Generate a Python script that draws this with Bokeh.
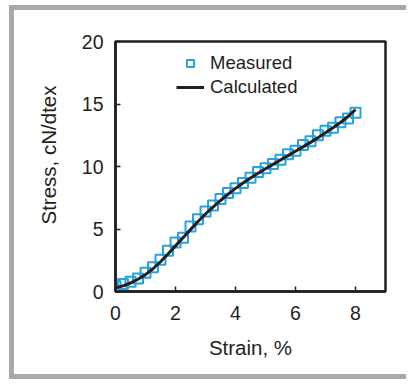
from bokeh.plotting import figure
from bokeh.models import Legend, LegendItem, FixedTicker, Range1d, Title
from bokeh.embed import file_html
from bokeh.resources import INLINE

# ---- data ----
strain_measured = [0.0, 0.25, 0.5, 0.75, 1.0, 1.25, 1.5, 1.75, 2.0, 2.25, 2.5, 2.75, 3.0, 3.25,
                   3.5, 3.75, 4.0, 4.25, 4.5, 4.75, 5.0, 5.25, 5.5, 5.75, 6.0, 6.25, 6.5, 6.75,
                   7.0, 7.25, 7.5, 7.75, 8.0]
stress_measured = [0.45, 0.6, 0.78, 1.04, 1.5, 1.95, 2.55, 3.26, 3.93, 4.3, 5.2, 5.78, 6.4, 6.88,
                   7.4, 7.88, 8.27, 8.68, 9.1, 9.57, 9.87, 10.2, 10.55, 10.98, 11.27, 11.72, 12.02,
                   12.5, 12.87, 13.1, 13.55, 13.85, 14.3]
strain_calc = [0.0, 0.25, 0.5, 0.75, 1.0, 1.25, 1.5, 1.75, 2.0, 2.25, 2.5, 2.75, 3.0, 3.25,
               3.5, 3.75, 4.0, 4.25, 4.5, 4.75, 5.0, 5.25, 5.5, 5.75, 6.0, 6.25, 6.5, 6.75,
               7.0, 7.25, 7.5, 7.75, 8.0]
stress_calc = [0.3, 0.45, 0.68, 0.98, 1.35, 1.82, 2.38, 3.0, 3.65, 4.3, 4.95, 5.6, 6.2, 6.75,
               7.28, 7.78, 8.25, 8.68, 9.08, 9.46, 9.82, 10.17, 10.52, 10.87, 11.22, 11.57, 11.93,
               12.3, 12.7, 13.1, 13.52, 14.0, 14.55]
x_ticks = [0, 2, 4, 6, 8]
y_ticks = [0, 5, 10, 15, 20]
x_label = "Strain, %"
y_label = "Stress, cN/dtex"
series_names = ["Measured", "Calculated"]

FONT = "Liberation Sans"
TXT = "#231f20"
BLUE = "#27a3dc"
FRAME_GRAY = "#a7a9ac"

p = figure(output_backend="svg", toolbar_location=None,
           frame_width=270, frame_height=250,
           x_range=Range1d(0, 9), y_range=Range1d(0, 20),
           min_border_left=115, min_border_top=41, min_border_right=21, min_border_bottom=88)

# light-grey page frame (left, top, bottom), drawn behind a transparent canvas border
p.styles = {"box-shadow": ("inset 9px 0 0 0 white, inset 0 5px 0 0 white, "
                           f"inset 14px 0 0 0 {FRAME_GRAY}, "
                           f"inset 0 10px 0 0 {FRAME_GRAY}, "
                           f"inset 0 -5px 0 0 {FRAME_GRAY}")}
p.border_fill_alpha = 0

p.xgrid.visible = False
p.ygrid.visible = False
p.outline_line_color = TXT
p.outline_line_width = 2.5
p.outline_line_alpha = 1.0
p.background_fill_color = "white"

for ax in (p.xaxis[0], p.yaxis[0]):
    ax.axis_line_color = TXT
    ax.axis_line_width = 2.5
    ax.major_tick_line_color = TXT
    ax.major_tick_line_width = 1.5
    ax.major_tick_in = 5
    ax.major_tick_out = 0
    ax.minor_tick_line_color = None
    ax.major_label_text_font = FONT
    ax.major_label_text_font_size = "19.5px"
    ax.major_label_text_color = TXT
    ax.axis_label_text_font = FONT
    ax.axis_label_text_font_size = "20.5px"
    ax.axis_label_text_font_style = "normal"
    ax.axis_label_text_color = TXT

p.xaxis[0].ticker = FixedTicker(ticks=x_ticks)
p.yaxis[0].ticker = FixedTicker(ticks=y_ticks)
p.xaxis[0].major_label_standoff = 14
p.yaxis[0].major_label_standoff = 12
p.xaxis[0].axis_label = x_label
p.xaxis[0].axis_label_standoff = 13

# y-axis title, placed a little above the frame centre as in the reference
p.add_layout(Title(text=y_label, align="left", offset=67, standoff=38,
                   text_font=FONT, text_font_size="20.5px", text_font_style="normal",
                   text_color=TXT), "left")

meas = p.scatter(strain_measured, stress_measured, marker="square", size=10,
                 fill_color=None, line_color=BLUE, line_width=2)
calc = p.line(strain_calc, stress_calc, line_color=TXT, line_width=3)

legend = Legend(items=[LegendItem(label=series_names[0], renderers=[meas]),
                       LegendItem(label=series_names[1], renderers=[calc])],
                location=(61, 192), orientation="vertical",
                glyph_width=28, glyph_height=18, label_height=24, label_standoff=6,
                spacing=0, padding=0, margin=0,
                border_line_color=None, background_fill_alpha=0,
                label_text_font=FONT, label_text_font_size="18.5px", label_text_color=TXT)
p.add_layout(legend)

open("out.html", "w").write(file_html(p, INLINE))
